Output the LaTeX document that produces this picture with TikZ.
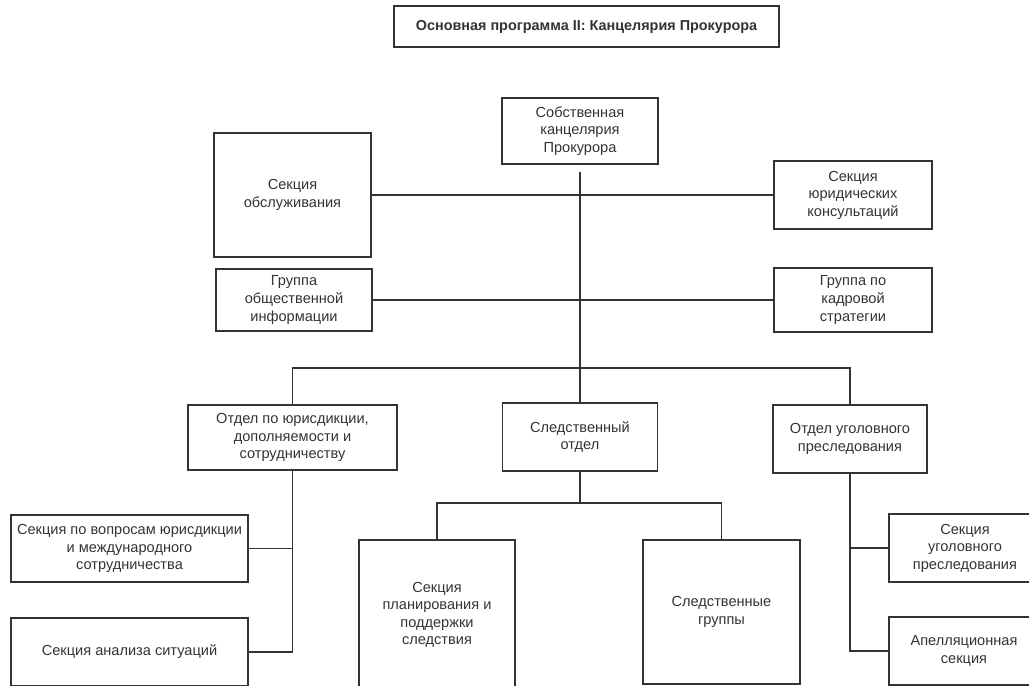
\documentclass[tikz,border=0pt]{standalone}
\usepackage{fontspec}
\setmainfont{Liberation Sans}
\usetikzlibrary{calc}

\tikzset{
  box/.style={draw=black!80, line width=0.85pt, text=black!80, align=center,
    inner sep=2pt, font=\fontsize{8.3}{10}\selectfont},
  link/.style={draw=black!80, line width=0.85pt},
}

\begin{document}
\begin{tikzpicture}[x=0.02cm, y=-0.02cm]
    % cornice
    \useasboundingbox (0,0) rectangle (1029,686);
    \clip (0,0) rectangle (1029,686);

    % titolo
    \node[box, font=\fontsize{8.2}{10}\selectfont\bfseries, minimum width=7.7cm, minimum height=0.82cm]
        (titolo) at (586.5,26.5) {Основная программа II: Канцелярия Прокурора};

    % vertice
    \node[box, minimum width=3.12cm, minimum height=1.32cm] (ufficio) at (580,131)
        {Собственная\\канцелярия\\Прокурора};
    \node[box, minimum width=3.14cm, minimum height=2.48cm] (servizi) at (292.5,195)
        {Секция\\обслуживания};
    \node[box, minimum width=3.16cm, minimum height=1.36cm] (legale) at (853,195)
        {Секция\\юридических\\консультаций};
    \node[box, minimum width=3.12cm, minimum height=1.24cm] (pubblico) at (294,300)
        {Группа\\общественной\\информации};
    \node[box, minimum width=3.16cm, minimum height=1.28cm] (personale) at (853,300)
        {Группа по\\кадровой\\стратегии};

    % divisioni
    \node[box, minimum width=4.18cm, minimum height=1.3cm] (giurisd) at (292.5,437.5)
        {Отдел по юрисдикции,\\дополняемости и\\сотрудничеству};
    \node[box, minimum width=3.1cm, minimum height=1.36cm] (indagini) at (580,437)
        {Следственный\\отдел};
    \node[box, minimum width=3.08cm, minimum height=1.36cm] (accusa) at (850,439)
        {Отдел уголовного\\преследования};

    % sezioni
    \node[box, minimum width=4.74cm, minimum height=1.34cm] (coop) at (129.5,548.5)
        {Секция по вопросам юрисдикции\\и международного\\сотрудничества};
    \node[box, minimum width=4.74cm, minimum height=1.36cm] (analisi) at (129.5,652)
        {Секция анализа ситуаций};
    \node[box, minimum width=3.12cm, minimum height=3.0cm] (piano) at (437,615)
        {Секция\\планирования и\\поддержки\\следствия};
    \node[box, minimum width=3.14cm, minimum height=2.88cm] (squadre) at (721.5,612)
        {Следственные\\группы};
    \node[box, minimum width=3.04cm, minimum height=1.36cm] (processo) at (965,548)
        {Секция\\уголовного\\преследования};
    \node[box, minimum width=3.0cm, minimum height=1.36cm] (appello) at (964,651)
        {Апелляционная\\секция};

    % punti di snodo
    \coordinate (tronco) at (580,172);
    \coordinate (barra)  at (580,368);
    \coordinate (barraI) at (580,503);

    % linee
    \draw[link] (tronco) -- (indagini.north);
    \draw[link] (servizi.east) -- (legale.west);
    \draw[link] (pubblico.east) -- (personale.west);
    \draw[link] (giurisd.north) |- (barra) -| (accusa.north);

    \draw[link] (indagini.south) -- (barraI);
    \draw[link] (piano.north) |- (barraI) -| (squadre.north);

    \draw[link] (giurisd.south) |- (analisi.east);
    \draw[link] (coop.east) -- (coop.east -| giurisd.south);

    \draw[link] (accusa.south) |- (appello.west);
    \draw[link] (processo.west) -- (processo.west -| accusa.south);

\end{tikzpicture}
\end{document}
